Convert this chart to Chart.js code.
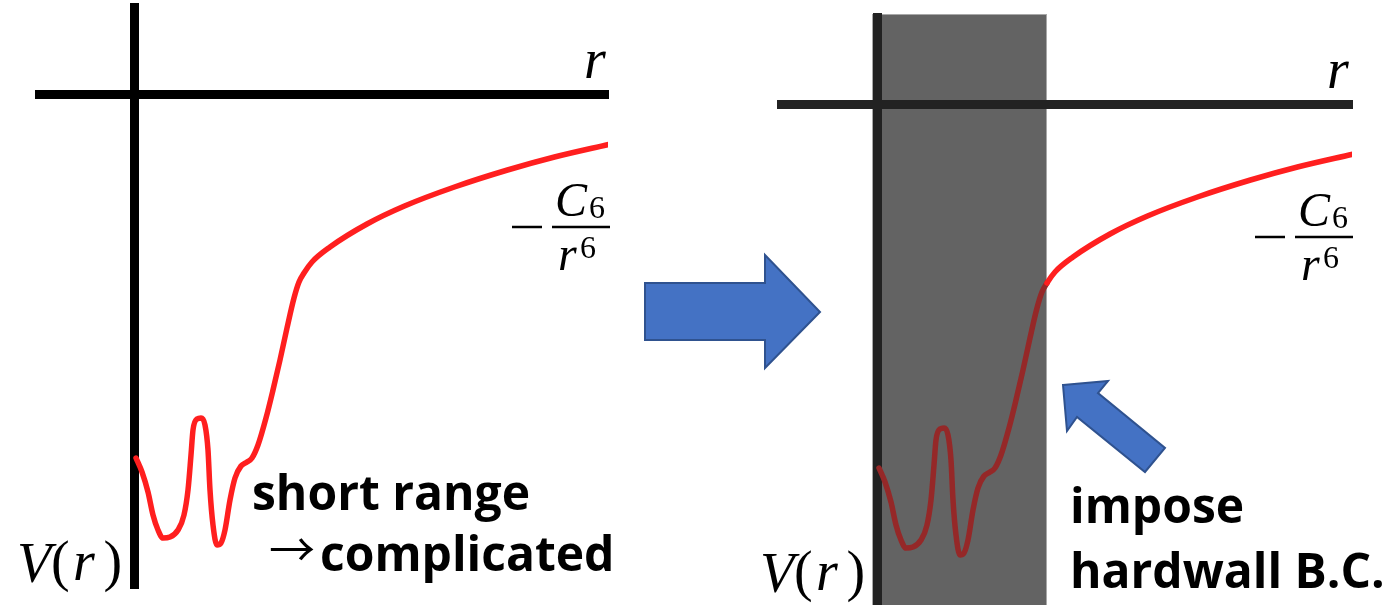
<!DOCTYPE html>
<html>
<head>
<meta charset="utf-8">
<script src="https://cdn.jsdelivr.net/npm/chart.js@4.4.1/dist/chart.umd.min.js"></script>
<style>
  html, body { margin: 0; background: #fff; }
  #wrap { position: relative; width: 1398px; height: 605px; }
  #wrap canvas { position: absolute; left: 0; top: 0; }
</style>
</head>
<body>
<div id="wrap">
  <canvas id="leftChart" width="1398" height="605"></canvas>
  <canvas id="rightChart" width="1398" height="605"></canvas>
</div>
<script>
// Potencial V(r) esboçado (unidades arbitrárias, origem no cruzamento dos eixos)
const rValues = [0.015, 0.075, 0.135, 0.185, 0.235, 0.285, 0.355, 0.435, 0.495, 0.535,
                 0.565, 0.585, 0.625, 0.665, 0.705, 0.735, 0.755, 0.785, 0.825, 0.865,
                 0.905, 0.955, 1.005, 1.065, 1.125, 1.175, 1.235, 1.315, 1.385, 1.455,
                 1.525, 1.595, 1.645, 1.695, 1.775, 1.955, 2.325, 2.70, 3.20, 3.73,
                 4.20, 4.76];
const vValues = [-3.64, -3.78, -3.98, -4.21, -4.36, -4.44, -4.43, -4.36, -4.21, -3.96,
                 -3.61, -3.36, -3.25, -3.24, -3.31, -3.56, -3.96, -4.31, -4.51, -4.49,
                 -4.36, -4.06, -3.84, -3.72, -3.68, -3.64, -3.51, -3.24, -2.96, -2.66,
                 -2.34, -2.04, -1.88, -1.79, -1.68, -1.53, -1.30, -1.12, -0.93, -0.76,
                 -0.63, -0.50];
// posição da parede (hard wall) no painel da direita
const wallR = 1.695;

const curve = rValues.map((r, i) => ({ x: r, y: vValues[i] }));

const RED = '#ff1f1f';
const DARK_RED = '#952828';
const BLUE = '#4472c4';
const BLUE_EDGE = '#2f528f';
const MATH = '"Liberation Serif", "DejaVu Serif", serif';
const SANS = '"Open Sans", "Noto Sans", sans-serif';

// helpers de desenho em coordenadas do gráfico
function px(chart, r) { return chart.scales.x.getPixelForValue(r); }
function py(chart, v) { return chart.scales.y.getPixelForValue(v); }

function put(chart, str, r, v, font, color) {
    const ctx = chart.ctx;
    ctx.font = font;
    ctx.fillStyle = color || '#000';
    ctx.textAlign = 'left';
    ctx.textBaseline = 'alphabetic';
    ctx.fillText(str, px(chart, r), py(chart, v));
}

function hline(chart, r1, r2, v, w, color) {
    const ctx = chart.ctx;
    ctx.beginPath();
    ctx.moveTo(px(chart, r1), py(chart, v));
    ctx.lineTo(px(chart, r2), py(chart, v));
    ctx.lineWidth = w;
    ctx.strokeStyle = color;
    ctx.stroke();
}

function arrowShape(chart, pts) {
    const ctx = chart.ctx;
    ctx.beginPath();
    pts.forEach((p, i) => {
        const x = px(chart, p[0]), y = py(chart, p[1]);
        if (i === 0) ctx.moveTo(x, y); else ctx.lineTo(x, y);
    });
    ctx.closePath();
    ctx.fillStyle = BLUE;
    ctx.fill();
    ctx.lineWidth = 2;
    ctx.strokeStyle = BLUE_EDGE;
    ctx.lineJoin = 'miter';
    ctx.stroke();
}

// rótulos matemáticos: r, V(r) e -C6/r^6
function mathLabels(chart) {
    put(chart, 'r', 4.495, 0.16, 'italic 56px ' + MATH);

    put(chart, 'V', -1.175, -4.88, 'italic 56px ' + MATH);
    put(chart, '(', -0.835, -4.86, '56px ' + MATH);
    put(chart, 'r', -0.615, -4.86, 'italic 56px ' + MATH);
    put(chart, ')', -0.31, -4.86, '56px ' + MATH);

    hline(chart, 3.775, 4.075, -1.33, 2.5, '#000');
    hline(chart, 4.175, 4.755, -1.33, 2.5, '#000');
    put(chart, 'C', 4.205, -1.22, 'italic 48px ' + MATH);
    put(chart, '6', 4.545, -1.24, '32px ' + MATH);
    put(chart, 'r', 4.235, -1.76, 'italic 48px ' + MATH);
    put(chart, '6', 4.455, -1.64, '32px ' + MATH);
}

const decor = {
    id: 'decor',
    beforeDraw(chart, args, opts) {
        if (!opts.wall) return;
        // região excluída pela parede
        const ctx = chart.ctx;
        const x1 = px(chart, -0.055), x2 = px(chart, wallR);
        const y1 = py(chart, 0.90), y2 = chart.height;
        ctx.save();
        ctx.fillStyle = '#636363';
        ctx.fillRect(x1, y1, x2 - x1, y2 - y1);
        ctx.strokeStyle = '#a8a8a8';
        ctx.lineWidth = 1;
        ctx.strokeRect(x1 + 0.5, y1 + 0.5, x2 - x1 - 1, y2 - y1);
        ctx.restore();
    },
    afterDraw(chart, args, opts) {
        const ctx = chart.ctx;
        ctx.save();
        mathLabels(chart);
        if (opts.panel === 'left') {
            put(chart, 'short range', 1.175, -4.16, 'bold 48px ' + SANS);
            put(chart, '\u2192', 1.345, -4.72, '46px "Noto Sans CJK JP", sans-serif');
            put(chart, 'complicated', 1.855, -4.77, 'bold 48px ' + SANS);
            // seta grande entre os painéis
            arrowShape(chart, [[5.105, -1.89], [6.305, -1.89], [6.305, -1.61], [6.855, -2.18],
                               [6.305, -2.74], [6.305, -2.46], [5.105, -2.46]]);
        } else {
            put(chart, 'impose', 1.925, -4.19, 'bold 48px ' + SANS);
            put(chart, 'hardwall B.C.', 1.925, -4.84, 'bold 48px ' + SANS);
            arrowShape(chart, [[1.855, -2.81], [2.305, -2.77], [2.205, -2.89], [2.875, -3.44],
                               [2.675, -3.68], [1.995, -3.13], [1.895, -3.27]]);
        }
        ctx.restore();
    }
};

function makeChart(id, cfg) {
    return new Chart(document.getElementById(id), {
        type: 'line',
        data: {
            datasets: [{
                data: curve,
                borderColor: RED,
                borderWidth: 5.5,
                pointRadius: 0,
                cubicInterpolationMode: 'monotone',
                borderCapStyle: 'round',
                borderJoinStyle: 'round',
                segment: cfg.segment || {}
            }]
        },
        options: {
            responsive: false,
            animation: false,
            events: [],
            layout: { padding: cfg.padding },
            plugins: {
                legend: { display: false },
                tooltip: { enabled: false },
                decor: { panel: cfg.panel, wall: cfg.wall }
            },
            scales: {
                x: {
                    type: 'linear',
                    min: cfg.xMin, max: cfg.xMax,
                    position: { y: 0 },
                    grid: { display: false },
                    ticks: { display: false },
                    border: { display: true, width: 9, color: cfg.axisColor }
                },
                y: {
                    type: 'linear',
                    min: cfg.yMin, max: cfg.yMax,
                    position: { x: 0 },
                    grid: { display: false },
                    ticks: { display: false },
                    border: { display: true, width: 9, color: cfg.axisColor }
                }
            }
        },
        plugins: [decor]
    });
}

// painel da esquerda: potencial completo
makeChart('leftChart', {
    panel: 'left',
    wall: false,
    axisColor: '#000',
    padding: { left: 39, right: 790, top: 7, bottom: 17 },
    xMin: -0.955, xMax: 4.735, yMin: -4.94, yMax: 0.87
});

// painel da direita: parede imposta em r = wallR
makeChart('rightChart', {
    panel: 'right',
    wall: true,
    axisColor: '#222',
    padding: { left: 781, right: 46, top: 17, bottom: 0 },
    xMin: -0.965, xMax: 4.745, yMin: -5.01, yMax: 0.87,
    segment: {
        borderColor: ctx => ctx.p1.parsed.x <= wallR + 1e-6 ? DARK_RED : RED
    }
});
</script>
</body>
</html>
